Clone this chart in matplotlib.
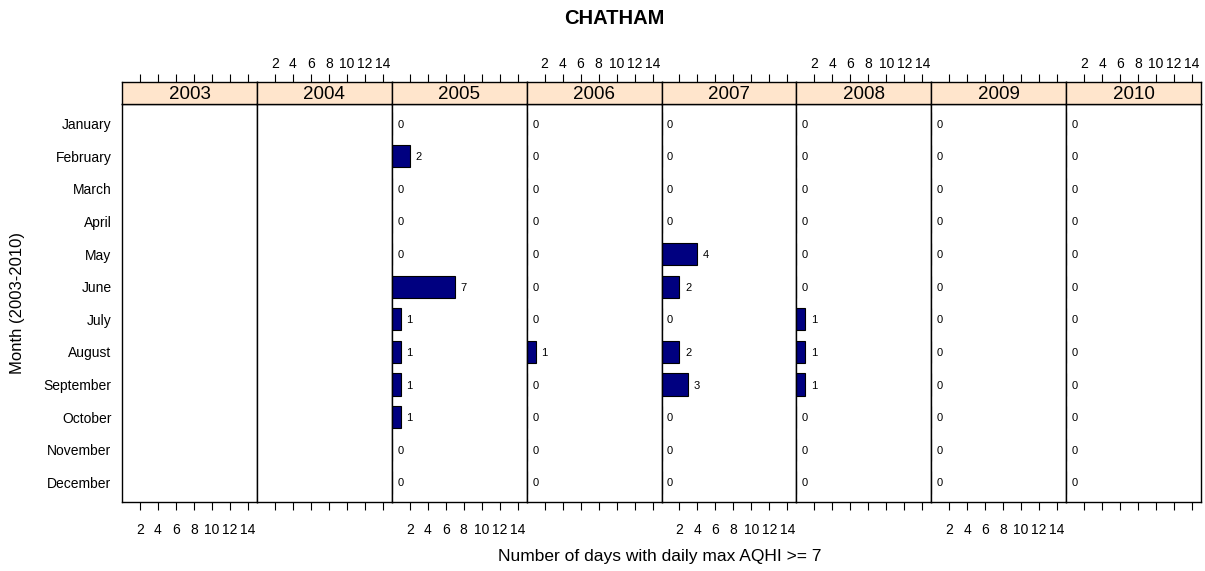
import matplotlib
matplotlib.use("Agg")
import matplotlib.pyplot as plt

plt.rcParams['font.family'] = ['Liberation Sans', 'DejaVu Sans']

months = ["January", "February", "March", "April", "May", "June", "July",
          "August", "September", "October", "November", "December"]
years = ["2003", "2004", "2005", "2006", "2007", "2008", "2009", "2010"]
counts_2003 = None
counts_2004 = None
counts_2005 = [0, 2, 0, 0, 0, 7, 1, 1, 1, 1, 0, 0]
counts_2006 = [0, 0, 0, 0, 0, 0, 0, 1, 0, 0, 0, 0]
counts_2007 = [0, 0, 0, 0, 4, 2, 0, 2, 3, 0, 0, 0]
counts_2008 = [0, 0, 0, 0, 0, 0, 1, 1, 1, 0, 0, 0]
counts_2009 = [0, 0, 0, 0, 0, 0, 0, 0, 0, 0, 0, 0]
counts_2010 = [0, 0, 0, 0, 0, 0, 0, 0, 0, 0, 0, 0]
data = [counts_2003, counts_2004, counts_2005, counts_2006,
        counts_2007, counts_2008, counts_2009, counts_2010]
xticks = [2, 4, 6, 8, 10, 12, 14]

W, H = 1205, 571
fig = plt.figure(figsize=(W / 100, H / 100), dpi=100)

left_px, right_px = 122, 1201
panel_top, panel_bot = 104, 502
strip_top = 82
n = len(years)
pw = (right_px - left_px) / n

for i, (yr, vals) in enumerate(zip(years, data)):
    x0 = left_px + i * pw
    ax = fig.add_axes([x0 / W, 1 - panel_bot / H, pw / W, (panel_bot - panel_top) / H])
    ax.set_xlim(0, 15)
    ax.set_ylim(12.6, 0.4)
    if vals is not None:
        ypos = list(range(1, 13))
        ax.barh(ypos, vals, height=0.68, left=0, color='#000080',
                edgecolor='black', linewidth=0.8, zorder=2)
        for y, v in zip(ypos, vals):
            ax.annotate(str(v), (v, y), xytext=(4, 0), textcoords='offset points',
                        va='center_baseline', ha='left', fontsize=8)
    for sp in ax.spines.values():
        sp.set_linewidth(1.0)
    ax.set_xticks(xticks)
    ax.tick_params(axis='x', direction='out', length=6, width=0.8, labelsize=10,
                   pad=9, labelbottom=(i % 2 == 0), top=False)
    if i == 0:
        ax.set_yticks(range(1, 13))
        ax.set_yticklabels(months, fontsize=10)
        ax.tick_params(axis='y', length=0, pad=7.5)
        for lbl in ax.get_yticklabels():
            lbl.set_va('center_baseline')
    else:
        ax.set_yticks([])

    sax = fig.add_axes([x0 / W, 1 - panel_top / H, pw / W, (panel_top - strip_top) / H])
    sax.set_facecolor('#FFE5CC')
    sax.set_xlim(0, 15)
    sax.set_ylim(0, 1)
    sax.set_yticks([])
    sax.set_xticks(xticks)
    sax.tick_params(axis='x', direction='out', length=6, width=0.8, labelsize=10,
                    pad=2, bottom=False, labelbottom=False, top=True,
                    labeltop=(i % 2 == 1))
    for sp in sax.spines.values():
        sp.set_linewidth(1.0)
    sax.text(7.5, 0.45, yr, ha='center', va='center', fontsize=13.5)

fig.text(614 / W, 1 - 19 / H, "CHATHAM", ha='center',
         va='center', fontsize=14.5, fontweight='bold')
fig.text(660 / W, 1 - 557 / H, "Number of days with daily max AQHI >= 7",
         ha='center', va='center', fontsize=12.5)
fig.text(18 / W, 1 - (panel_top + panel_bot) / 2 / H, "Month (2003-2010)", rotation=90,
         ha='center', va='center', fontsize=12)

fig.savefig("out.png", dpi=100)
